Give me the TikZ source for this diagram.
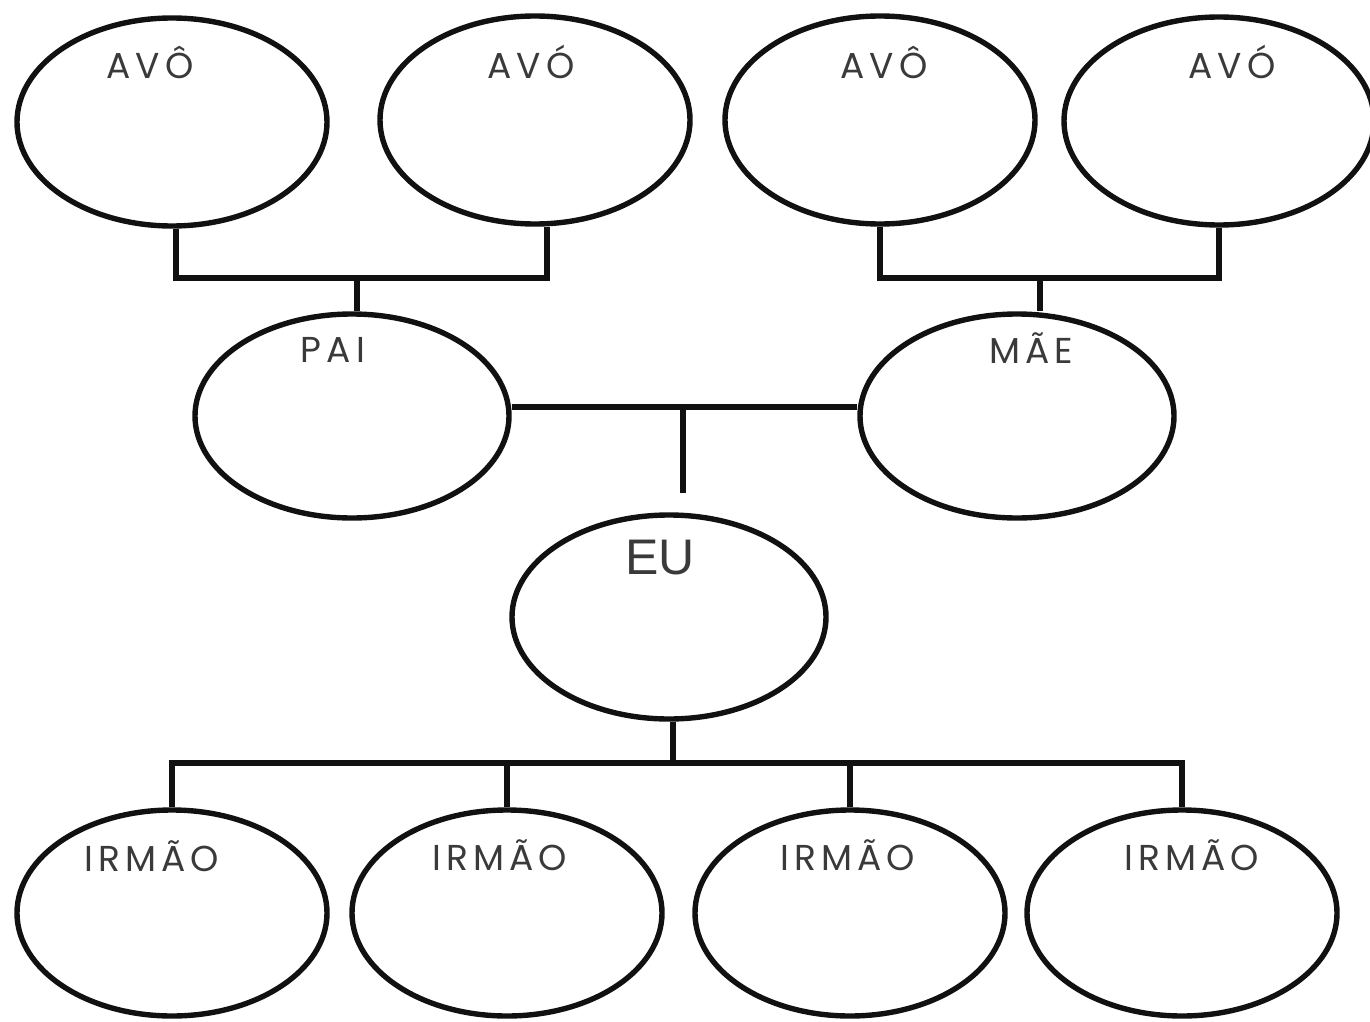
\documentclass[tikz,border=0pt]{standalone}
\usepackage{fontspec}
\usetikzlibrary{shapes.geometric}
\newfontfamily\labfont[LetterSpace=14]{Poppins}
\newfontfamily\eufont{Liberation Sans}
\definecolor{ink}{HTML}{111111}
\definecolor{txt}{HTML}{3A3A3A}
\tikzset{
  pessoa/.style={draw=ink, line width=2.7pt, ellipse, inner sep=0pt},
  topo/.style={pessoa, minimum width=155pt, minimum height=104pt},
  meio/.style={pessoa, minimum width=157pt, minimum height=102pt},
  base/.style={pessoa, minimum width=155pt, minimum height=103pt},
  rotulo/.style={text=txt, font=\labfont\fontsize{18}{18}\selectfont, inner sep=0pt},
  liga/.style={draw=ink, line width=2.7pt}
}
\begin{document}
\begin{tikzpicture}[x=0.5pt,y=-0.5pt]
\useasboundingbox[fill=white] (0,0) rectangle (1370,1022);
\clip (0,0) rectangle (1370,1022);
% avós
\node[topo] (a1) at (172,122) {};
\node[topo] (a2) at (535,120) {};
\node[topo] (a3) at (880,120) {};
\node[topo] (a4) at (1219,121) {};
\node[rotulo] (t1) at (150,62) {AVÔ};
\node[rotulo] (t2) at (531,62) {AVÓ};
\node[rotulo] (t3) at (884,62) {AVÔ};
\node[rotulo] (t4) at (1232,62) {AVÓ};
% pais
\node[meio] (pai) at (352,416) {};
\node[meio] (mae) at (1017,416) {};
\node[rotulo] (tp) at (333,350) {PAI};
\node[rotulo] (tm) at (1031,348) {MÃE};
% eu
\node[meio] (eu) at (669,617) {};
\node[text=txt, font=\eufont\fontsize{25}{25}\selectfont, inner sep=0pt] (te) at (660,558) {EU};
% irmãos
\node[base] (i1) at (172,913) {};
\node[base] (i2) at (507,913) {};
\node[base] (i3) at (850,913) {};
\node[base] (i4) at (1182,913) {};
\node[rotulo] (r1) at (152,856) {IRMÃO};
\node[rotulo] (r2) at (500,855) {IRMÃO};
\node[rotulo] (r3) at (848,855) {IRMÃO};
\node[rotulo] (r4) at (1192,855) {IRMÃO};
% ligações avós -> pai
\coordinate (jl) at (357,278);
\draw[liga] ([xshift=2pt]a1.south) |- (jl) -| ([xshift=6pt]a2.south);
\draw[liga] (jl) -- (jl |- pai.north);
% ligações avós -> mãe
\coordinate (jr) at (1040,278);
\draw[liga] (a3.south) |- (jr) -| (a4.south);
\draw[liga] (jr) -- (jr |- mae.north);
% pai - mãe
\coordinate (jc) at (683,407);
\coordinate (jd) at (683,493);
\draw[liga] (pai.east |- jc) -- (mae.west |- jc);
\draw[liga] (jc) -- (jd);
% eu -> irmãos
\coordinate (je) at (673,763);
\draw[liga] (je |- eu.south) -- (je);
\draw[liga] (i1.north) |- (je) -| (i4.north);
\draw[liga] (i2.north) -- (i2.north |- je);
\draw[liga] (i3.north) -- (i3.north |- je);
\end{tikzpicture}
\end{document}
